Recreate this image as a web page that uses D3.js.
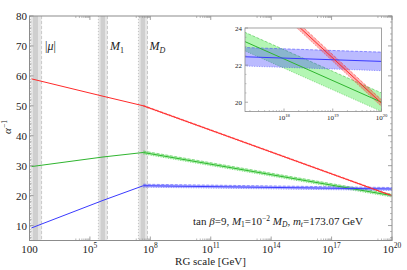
<!DOCTYPE html>
<html><head><meta charset="utf-8">
<script src="https://cdn.jsdelivr.net/npm/d3@7"></script>
<style>
html,body{margin:0;padding:0;background:#fff;}
svg{display:block;font-family:"Liberation Serif","DejaVu Serif",serif;}
</style></head>
<body><div id="chart"></div>
<script>
// ---- data (x values are log10 of RG scale in GeV) ----
const xTickExp = [2, 5, 8, 11, 14, 17, 20];
const xTickLabels = ["100", "10^5", "10^8", "10^11", "10^14", "10^17", "10^20"];
const yTicks = [10, 20, 30, 40, 50, 60, 70, 80];

const thresholdNames = ["|μ|", "M1", "MD"];
const thresholdOuterLo = [2.05, 5.42, 7.41];
const thresholdInnerLo = [2.17, 5.53, 7.52];
const thresholdInnerHi = [2.42, 5.75, 7.74];
const thresholdOuterHi = [2.60, 5.87, 7.86];

const runLogQ = [2.1, 5.65, 7.65, 20];
const alpha1Inv = [59.0, 53.2, 50.0, 19.95];
const alpha2Inv = [29.7, 32.9, 34.4, 20.0];
const alpha3Inv = [9.2, 18.4, 23.3, 22.2];
const seriesHalfWidth = [0.18, 0.5, 0.5];
const seriesColors = ["#ff2a2a", "#2fb52f", "#3a3aff"];
const seriesFill = ["rgba(255,40,40,0.35)", "rgba(40,230,40,0.35)", "rgba(60,60,255,0.35)"];

const insetXTickExp = [18, 19, 20];
const insetYTicks = [20, 22, 24];

// ---- layout ----
const W = 407, H = 270;
const svg = d3.select("#chart").append("svg").attr("width", W).attr("height", H);
const m = {l: 29.5, r: 392, t: 16, b: 240.5};
const x = d3.scaleLinear().domain([2, 20]).range([m.l, m.r]);
const y = d3.scaleLinear().domain([5, 80]).range([m.b, m.t]);
const axisCol = "#8c8c8c";

const series = [alpha1Inv, alpha2Inv, alpha3Inv];

// threshold bands
thresholdNames.forEach((n, i) => {
  svg.append("rect").attr("x", x(thresholdOuterLo[i])).attr("y", m.t)
    .attr("width", x(thresholdOuterHi[i]) - x(thresholdOuterLo[i])).attr("height", m.b - m.t)
    .attr("fill", "#e6e6e6");
  svg.append("rect").attr("x", x(thresholdInnerLo[i])).attr("y", m.t)
    .attr("width", x(thresholdInnerHi[i]) - x(thresholdInnerLo[i])).attr("height", m.b - m.t)
    .attr("fill", "#cfcfcf");
  svg.append("line").attr("x1", x(thresholdOuterLo[i])).attr("x2", x(thresholdOuterLo[i]))
    .attr("y1", m.t).attr("y2", m.b).attr("stroke", "#b0b0b0").attr("stroke-width", 0.7)
    .attr("stroke-dasharray", "1,2");
  svg.append("line").attr("x1", x(thresholdOuterHi[i])).attr("x2", x(thresholdOuterHi[i]))
    .attr("y1", m.t).attr("y2", m.b).attr("stroke", "#b8b8b8").attr("stroke-width", 0.7)
    .attr("stroke-dasharray", "3,2");
});

// uncertainty bands above MD
function drawSeries(g, xs, ys, clipId) {
  const grp = g.append("g");
  if (clipId) grp.attr("clip-path", `url(#${clipId})`);
  const order = [1, 2, 0];
  order.forEach(k => {
    const arr = series[k];
    const pts = [2, 3].map(j => ({x: runLogQ[j], v: arr[j]}));
    const hw = seriesHalfWidth[k];
    grp.append("path").datum(pts)
      .attr("d", d3.area().x(d => xs(d.x)).y0(d => ys(d.v - hw)).y1(d => ys(d.v + hw)))
      .attr("fill", seriesFill[k]);
    grp.append("path").datum(pts)
      .attr("d", d3.line().x(d => xs(d.x)).y(d => ys(d.v + hw)))
      .attr("fill", "none").attr("stroke", seriesColors[k]).attr("stroke-width", 0.7)
      .attr("stroke-dasharray", "3,1.5").attr("opacity", 0.7);
    grp.append("path").datum(pts)
      .attr("d", d3.line().x(d => xs(d.x)).y(d => ys(d.v - hw)))
      .attr("fill", "none").attr("stroke", seriesColors[k]).attr("stroke-width", 0.7)
      .attr("stroke-dasharray", "1,1.5").attr("opacity", 0.7);
  });
  order.forEach(k => {
    const arr = series[k];
    const pts = runLogQ.map((q, j) => ({x: q, v: arr[j]}));
    grp.append("path").datum(pts)
      .attr("d", d3.line().x(d => xs(d.x)).y(d => ys(d.v)))
      .attr("fill", "none").attr("stroke", seriesColors[k]).attr("stroke-width", 1);
  });
}
drawSeries(svg, x, y, null);

// frame
svg.append("rect").attr("x", m.l).attr("y", m.t).attr("width", m.r - m.l).attr("height", m.b - m.t)
  .attr("fill", "none").attr("stroke", axisCol).attr("stroke-width", 1);

// x ticks (major + log minor ticks)
const minorX = [];
xTickExp.forEach(e => { for (let j = 2; j <= 9; j++) { const v = e - 1 + Math.log10(j); if (v >= 2) minorX.push(v); } });
[m.b, m.t].forEach((yy, side) => {
  const dir = side === 0 ? -1 : 1;
  xTickExp.forEach(e => svg.append("line").attr("x1", x(e)).attr("x2", x(e))
    .attr("y1", yy).attr("y2", yy + dir * 4).attr("stroke", axisCol).attr("stroke-width", 0.8));
  minorX.forEach(v => svg.append("line").attr("x1", x(v)).attr("x2", x(v))
    .attr("y1", yy).attr("y2", yy + dir * 2).attr("stroke", axisCol).attr("stroke-width", 0.6));
});
// y ticks
const minorY = d3.range(6, 80, 2).filter(v => v % 10 !== 0);
[m.l, m.r].forEach((xx, side) => {
  const dir = side === 0 ? 1 : -1;
  yTicks.forEach(v => svg.append("line").attr("x1", xx).attr("x2", xx + dir * 4)
    .attr("y1", y(v)).attr("y2", y(v)).attr("stroke", axisCol).attr("stroke-width", 0.8));
  minorY.forEach(v => svg.append("line").attr("x1", xx).attr("x2", xx + dir * 2)
    .attr("y1", y(v)).attr("y2", y(v)).attr("stroke", axisCol).attr("stroke-width", 0.6));
});

// tick labels
function powLabel(g, lab, px, py, fs, anchor) {
  const t = g.append("text").attr("x", px).attr("y", py).attr("font-size", fs)
    .attr("text-anchor", anchor || "middle").attr("fill", "#222");
  const parts = lab.split("^");
  t.append("tspan").text(parts[0]);
  if (parts[1]) t.append("tspan").attr("dy", -fs * 0.42).attr("font-size", fs * 0.68).text(parts[1]);
  return t;
}
xTickExp.forEach((e, i) => powLabel(svg, xTickLabels[i], x(e), 253, 11));
yTicks.forEach(v => svg.append("text").attr("x", 27).attr("y", y(v) + 4).attr("font-size", 11)
  .attr("text-anchor", "end").attr("fill", "#222").text(v));

// axis titles
svg.append("text").attr("x", 210.5).attr("y", 265).attr("font-size", 11)
  .attr("text-anchor", "middle").attr("fill", "#222").text("RG scale [GeV]");
const yl = svg.append("text").attr("transform", "translate(11,127) rotate(-90)")
  .attr("font-size", 11).attr("text-anchor", "middle").attr("fill", "#222");
yl.append("tspan").attr("font-style", "italic").text("α");
yl.append("tspan").attr("dy", -4.5).attr("font-size", 7.5).text("−1");

// threshold labels
const l0 = svg.append("text").attr("x", 45).attr("y", 50).attr("font-size", 12).attr("fill", "#222");
l0.append("tspan").text("|"); l0.append("tspan").attr("font-style", "italic").text("μ"); l0.append("tspan").text("|");
const l1 = svg.append("text").attr("x", 110).attr("y", 50).attr("font-size", 12).attr("fill", "#222");
l1.append("tspan").attr("font-style", "italic").text("M");
l1.append("tspan").attr("dy", 2.5).attr("font-size", 8).text("1");
const l2 = svg.append("text").attr("x", 149.5).attr("y", 50).attr("font-size", 12).attr("fill", "#222");
l2.append("tspan").attr("font-style", "italic").text("M");
l2.append("tspan").attr("dy", 2.5).attr("font-size", 8).attr("font-style", "italic").text("D");

// annotation
const an = svg.append("text").attr("x", 193).attr("y", 225).attr("font-size", 11).attr("fill", "#222");
an.append("tspan").text("tan ");
an.append("tspan").attr("font-style", "italic").text("β");
an.append("tspan").text("=9, ");
an.append("tspan").attr("font-style", "italic").text("M");
an.append("tspan").attr("dy", 2).attr("font-size", 7.5).text("1");
an.append("tspan").attr("dy", -2).text("=10");
an.append("tspan").attr("dy", -4.5).attr("font-size", 7.5).text("−2");
an.append("tspan").attr("dy", 4.5).text(" ");
an.append("tspan").attr("font-style", "italic").text("M");
an.append("tspan").attr("dy", 2).attr("font-size", 7.5).attr("font-style", "italic").text("D");
an.append("tspan").attr("dy", -2).text(", ");
an.append("tspan").attr("font-style", "italic").text("m");
an.append("tspan").attr("dy", 2).attr("font-size", 7.5).attr("font-style", "italic").text("t");
an.append("tspan").attr("dy", -2).text("=173.07 GeV");

// ---- inset ----
const im = {l: 245, r: 381.5, t: 28, b: 111.5};
const ix = d3.scaleLinear().domain([17.2, 20]).range([im.l, im.r]);
const iy = d3.scaleLinear().domain([19.5, 24]).range([im.b, im.t]);
svg.append("rect").attr("x", im.l - 22).attr("y", im.t - 4).attr("width", im.r - im.l + 26).attr("height", im.b - im.t + 16).attr("fill", "#fff");
svg.append("defs").append("clipPath").attr("id", "insetClip").append("rect")
  .attr("x", im.l).attr("y", im.t).attr("width", im.r - im.l).attr("height", im.b - im.t);
drawSeries(svg, ix, iy, "insetClip");
svg.append("rect").attr("x", im.l).attr("y", im.t).attr("width", im.r - im.l).attr("height", im.b - im.t)
  .attr("fill", "none").attr("stroke", axisCol).attr("stroke-width", 0.8);
const iminor = [];
[17, 18, 19].forEach(e => { for (let j = 2; j <= 9; j++) { const v = e + Math.log10(j); if (v >= 17.2 && v < 20) iminor.push(v); } });
insetXTickExp.forEach(e => svg.append("line").attr("x1", ix(e)).attr("x2", ix(e))
  .attr("y1", im.b).attr("y2", im.b - 3).attr("stroke", axisCol).attr("stroke-width", 0.7));
iminor.forEach(v => svg.append("line").attr("x1", ix(v)).attr("x2", ix(v))
  .attr("y1", im.b).attr("y2", im.b - 1.5).attr("stroke", axisCol).attr("stroke-width", 0.5));
insetYTicks.forEach(v => svg.append("line").attr("x1", im.l).attr("x2", im.l + 3)
  .attr("y1", iy(v)).attr("y2", iy(v)).attr("stroke", axisCol).attr("stroke-width", 0.7));
d3.range(19.5, 24, 0.5).filter(v => v % 2 !== 0).forEach(v => svg.append("line").attr("x1", im.l).attr("x2", im.l + 1.5)
  .attr("y1", iy(v)).attr("y2", iy(v)).attr("stroke", axisCol).attr("stroke-width", 0.5));
insetXTickExp.forEach(e => powLabel(svg, "10^" + e, ix(e), 120, 7));
insetYTicks.forEach(v => svg.append("text").attr("x", im.l - 3).attr("y", iy(v) + 2.5).attr("font-size", 7)
  .attr("text-anchor", "end").attr("fill", "#222").text(v));
</script></body></html>
